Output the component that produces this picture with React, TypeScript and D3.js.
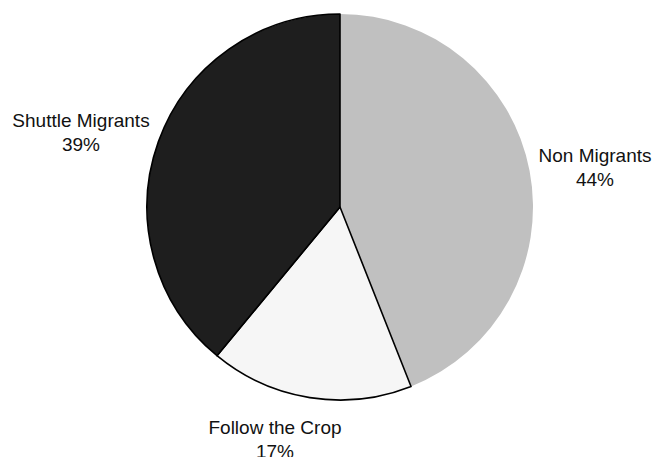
import React from "react";
import * as d3 from "d3";

// Share of households by migration pattern (percent)
const categories = ["Non Migrants", "Follow the Crop", "Shuttle Migrants"];
const shares = [44, 17, 39];
const fills = ["#c0c0c0", "#f6f6f6", "#1e1e1e"];
const outlined = [false, true, true];

const W = 652;
const H = 457;
const CX = 340;
const CY = 207;
const R = 193;

// Label anchors (centre x, first baseline y)
const labelAnchors: [number, number][] = [
  [595, 162],
  [275, 434],
  [81, 127],
];

export default function App() {
  const pie = d3
    .pie<number>()
    .sort(null)
    .value((d) => d);
  const arcs = pie(shares);
  const arcGen = d3.arc<d3.PieArcDatum<number>>().innerRadius(0).outerRadius(R);

  return (
    <svg
      width={W}
      height={H}
      style={{ position: "absolute", left: 0, top: 0, background: "#fff" }}
    >
      <g transform={`translate(${CX},${CY})`}>
        {arcs.map((a, i) => (
          <path
            key={categories[i]}
            d={arcGen(a) ?? ""}
            fill={fills[i]}
            stroke={outlined[i] ? "#000" : "none"}
            strokeWidth={1.6}
            strokeLinejoin="round"
          />
        ))}
      </g>
      {categories.map((c, i) => {
        const [x, y] = labelAnchors[i];
        return (
          <text
            key={c}
            x={x}
            y={y}
            textAnchor="middle"
            fontFamily="'Liberation Sans', Arial, sans-serif"
            fontSize={19}
            fill="#111"
          >
            <tspan x={x}>{c}</tspan>
            <tspan x={x} dy={24}>{`${shares[i]}%`}</tspan>
          </text>
        );
      })}
    </svg>
  );
}
